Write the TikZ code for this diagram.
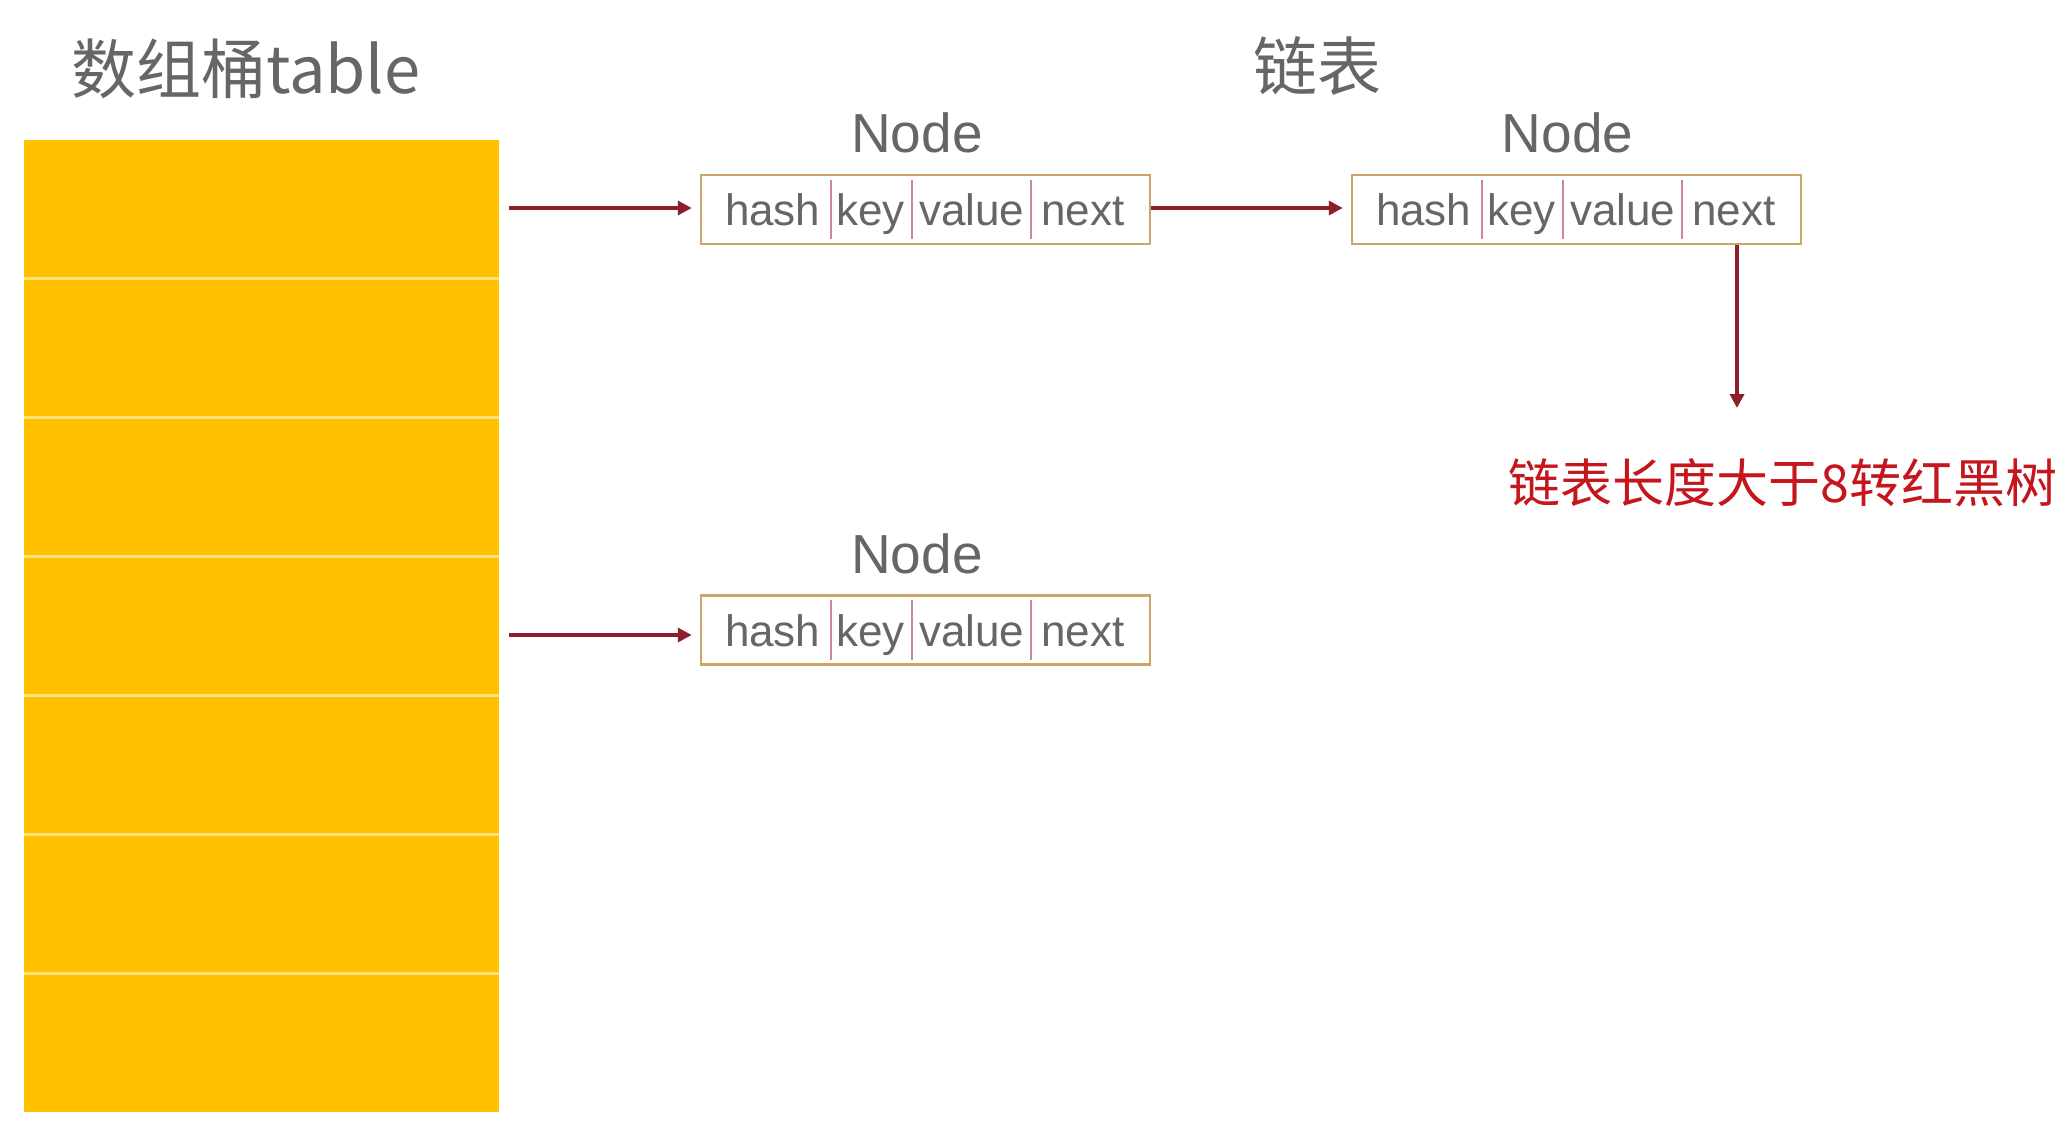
\documentclass[tikz,border=0pt]{standalone}
\usepackage{fontspec}
\setmainfont{Liberation Sans}
\newfontfamily\cjk{Noto Sans CJK SC}
\usetikzlibrary{arrows.meta}
\definecolor{binyellow}{HTML}{FFC000}
\definecolor{binline}{HTML}{FFE27A}
\definecolor{txtgray}{HTML}{666666}
\definecolor{boxborder}{HTML}{CDA56A}
\definecolor{celldiv}{HTML}{C98894}
\definecolor{arrowred}{HTML}{8E1F2A}
\definecolor{notered}{HTML}{C4161C}
\tikzset{
  bincell/.style={fill=binyellow, draw=none, minimum width=475pt, minimum height=138.9pt, inner sep=0pt, outer sep=0pt},
  binsep/.style={draw=binline, line width=3pt},
  recbox/.style={draw=boxborder, line width=2.5pt, fill=white, minimum width=449pt, minimum height=69pt, inner sep=0pt},
  field/.style={text=txtgray, font=\fontsize{44}{44}\selectfont, anchor=base, inner sep=0pt},
  fielddiv/.style={draw=celldiv, line width=1.5pt},
  nodelabel/.style={text=txtgray, font=\fontsize{55}{55}\selectfont, anchor=base, inner sep=0pt},
  titletext/.style={text=txtgray, inner sep=0pt},
  link/.style={draw=arrowred, line width=4pt, -{Triangle[length=14pt,width=14pt]}},
}
\newcommand{\recordfields}[1]{%
  \node[field] at ([xshift=73pt,yshift=-16pt]#1.west) {hash};
  \node[field] at ([xshift=171pt,yshift=-16pt]#1.west) {key};
  \node[field] at ([xshift=272pt,yshift=-16pt]#1.west) {value};
  \node[field] at ([xshift=383pt,yshift=-16pt]#1.west) {next};
  \draw[fielddiv] ([xshift=131pt,yshift=-6pt]#1.north west) -- ([xshift=131pt,yshift=6pt]#1.south west);
  \draw[fielddiv] ([xshift=212pt,yshift=-6pt]#1.north west) -- ([xshift=212pt,yshift=6pt]#1.south west);
  \draw[fielddiv] ([xshift=331pt,yshift=-6pt]#1.north west) -- ([xshift=331pt,yshift=6pt]#1.south west);
}
\begin{document}
\begin{tikzpicture}[x=1pt,y=-1pt]
\useasboundingbox (0,0) rectangle (2069,1122);
\fill[white] (0,0) rectangle (2069,1122);

% titles
\node[titletext, anchor=west, font=\cjk\fontsize{65}{65}\selectfont] (title) at (71,69) {数组桶table};
\node[titletext, anchor=center, font=\cjk\fontsize{64}{64}\selectfont] (lltitle) at (1317.5,66.5) {链表};

% bucket array
\foreach \i in {0,...,6} {
  \node[bincell] (c\i) at (261.5,{140+69.45+\i*138.9}) {};
}
\foreach \i in {1,...,6} {
  \draw[binsep] (c\i.north west) -- (c\i.north east);
}

% records
\node[recbox] (r1) at (925.5,209.5) {};
\node[recbox] (r2) at (1576.5,209.5) {};
\node[recbox] (r3) at (925.5,630) {};
\recordfields{r1}
\recordfields{r2}
\recordfields{r3}

% Node labels
\node[nodelabel] (l1) at (917,152) {Node};
\node[nodelabel] (l2) at (1567.5,152) {Node};
\node[nodelabel] (l3) at (917,573) {Node};

% note
\node[text=notered, font=\cjk\fontsize{52}{52}\selectfont, anchor=west, inner sep=0pt] (note) at (1508,483) {链表长度大于8转红黑树};

% connectors
\coordinate (a1) at (509,208);
\coordinate (a3) at (509,635);
\coordinate (vend) at (1737,408);
\draw[link] (a1) -- ([xshift=-8pt]r1.west |- a1);
\draw[link] (r1.east |- a1) -- ([xshift=-8pt]r2.west |- a1);
\draw[link] (a3) -- ([xshift=-8pt]r3.west |- a3);
\draw[link] (r2.south -| vend) -- (vend);
\end{tikzpicture}
\end{document}
